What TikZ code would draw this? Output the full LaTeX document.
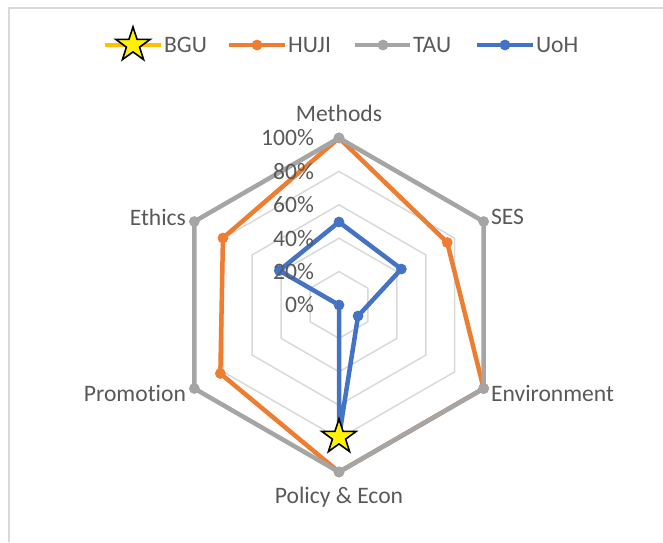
\documentclass[tikz,border=0pt]{standalone}
\usepackage{fontspec}
\setmainfont{Carlito}[Ligatures=NoCommon]
\usetikzlibrary{shapes.geometric}
\definecolor{hujiorange}{HTML}{ED7D31}
\definecolor{taugray}{HTML}{A5A5A5}
\definecolor{uohblue}{HTML}{4472C4}
\definecolor{bgugold}{HTML}{FFC000}
\definecolor{ringgray}{HTML}{D9D9D9}
\definecolor{labelgray}{HTML}{595959}

\begin{document}
\begin{tikzpicture}[x=0.5pt,y=0.5pt,
  every node/.style={font=\fontsize{11.8}{13}\selectfont, text=labelgray},
  ring/.style={draw=ringgray, line width=0.75pt},
  series/.style={line width=2.25pt, line join=round},
  bgustar/.style={star, star points=5, star point ratio=2.6, minimum size=18pt, inner sep=0pt, fill=yellow, draw=black, line width=0.8pt}]

\useasboundingbox (-339,-237) rectangle (324,305);

% chart frame
\draw[ringgray, line width=0.8pt] (-330,-237) -- (-330,297) -- (324,297);

% grid rings
\draw[ring] (90:33.4) -- (30:33.4) -- (-30:33.4) -- (-90:33.4) -- (-150:33.4) -- (150:33.4) -- cycle;
\draw[ring] (90:66.8) -- (30:66.8) -- (-30:66.8) -- (-90:66.8) -- (-150:66.8) -- (150:66.8) -- cycle;
\draw[ring] (90:100.2) -- (30:100.2) -- (-30:100.2) -- (-90:100.2) -- (-150:100.2) -- (150:100.2) -- cycle;
\draw[ring] (90:133.6) -- (30:133.6) -- (-30:133.6) -- (-90:133.6) -- (-150:133.6) -- (150:133.6) -- cycle;

% axis labels
\node (methods) at (0,192) {Methods};
\node[anchor=west] (ses) at (145,88) {SES};
\node[anchor=west] (env) at (145,-88) {Environment};
\node (policy) at (0,-192) {Policy \& Econ};
\node[anchor=east] (promo) at (-146,-88) {Promotion};
\node[anchor=east] (ethics) at (-146,88) {Ethics};

% data points
\coordinate (h-m) at (90:167);
\coordinate (h-s) at (30:125);
\coordinate (h-e) at (-30:167);
\coordinate (h-p) at (-90:167);
\coordinate (h-r) at (-150:137);
\coordinate (h-t) at (150:134);

\coordinate (t-m) at (90:167);
\coordinate (t-s) at (30:167);
\coordinate (t-e) at (-30:167);
\coordinate (t-p) at (-90:167);
\coordinate (t-r) at (-150:167);
\coordinate (t-t) at (150:167);

\coordinate (u-m) at (90:83);
\coordinate (u-s) at (30:72);
\coordinate (u-e) at (-30:22);
\coordinate (u-p) at (-90:132);
\coordinate (u-r) at (0,0);
\coordinate (u-t) at (150:69);

% series HUJI
\draw[series, hujiorange] (h-m) -- (h-s) -- (h-e) -- (h-p) -- (h-r) -- (h-t) -- cycle;
\foreach \p in {h-m,h-s,h-e,h-p,h-r,h-t}
  \fill[hujiorange] (\p) circle[radius=2.7pt];

% series TAU
\draw[series, taugray] (t-m) -- (t-s) -- (t-e) -- (t-p) -- (t-r) -- (t-t) -- cycle;
\foreach \p in {t-m,t-s,t-e,t-p,t-r,t-t}
  \fill[taugray] (\p) circle[radius=2.7pt];

% series UoH
\draw[series, uohblue] (u-m) -- (u-s) -- (u-e) -- (u-p) -- (u-r) -- (u-t) -- cycle;
\foreach \p in {u-m,u-s,u-e,u-p,u-r,u-t}
  \fill[uohblue] (\p) circle[radius=2.7pt];

% series BGU
\node[bgustar] (b-p) at (-90:132) {};

% percent labels
\node[anchor=east] (p0) at (-18,0) {0\%};
\node[anchor=east] (p20) at (-18,33.4) {20\%};
\node[anchor=east] (p40) at (-18,66.8) {40\%};
\node[anchor=east] (p60) at (-18,100.2) {60\%};
\node[anchor=east] (p80) at (-18,133.6) {80\%};
\node[anchor=east] (p100) at (-18,167) {100\%};

% legend
\coordinate (lb1) at (-234,260);
\coordinate (lb2) at (-178,260);
\draw[series, bgugold] (lb1) -- (lb2);
\node[bgustar] (lbs) at (-206,260) {};
\node[anchor=west] (lbgu) at (-182,260) {BGU};

\coordinate (lh1) at (-110,260);
\coordinate (lh2) at (-54,260);
\draw[series, hujiorange] (lh1) -- (lh2);
\fill[hujiorange] (-82,260) circle[radius=2.7pt];
\node[anchor=west] (lhuji) at (-58,260) {HUJI};

\coordinate (lt1) at (16,260);
\coordinate (lt2) at (71,260);
\draw[series, taugray] (lt1) -- (lt2);
\fill[taugray] (44,260) circle[radius=2.7pt];
\node[anchor=west] (ltau) at (67,260) {TAU};

\coordinate (lu1) at (138,260);
\coordinate (lu2) at (194,260);
\draw[series, uohblue] (lu1) -- (lu2);
\fill[uohblue] (166,260) circle[radius=2.7pt];
\node[anchor=west] (luoh) at (190,260) {UoH};

\end{tikzpicture}
\end{document}
